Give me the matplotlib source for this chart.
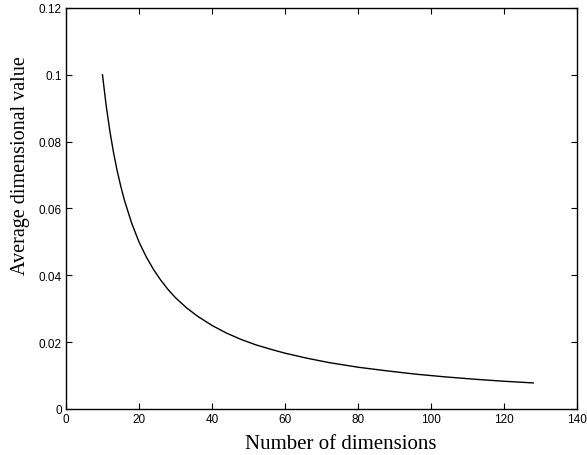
import matplotlib
matplotlib.use("Agg")
import matplotlib.pyplot as plt

# Average dimensional value versus number of dimensions
dimensions = [10, 11, 12, 13, 14, 15, 16, 18, 20, 22, 24, 26, 28, 30, 33, 36, 40,
              44, 48, 52, 56, 60, 66, 72, 80, 88, 96, 104, 112, 120, 128]
avg_value = [0.1, 0.0909, 0.0833, 0.0769, 0.0714, 0.0667, 0.0625, 0.0556, 0.05,
             0.0455, 0.0417, 0.0385, 0.0357, 0.0333, 0.0303, 0.0278, 0.025,
             0.0227, 0.0208, 0.0192, 0.0179, 0.0167, 0.0152, 0.0139, 0.0125,
             0.0114, 0.0104, 0.0096, 0.0089, 0.0083, 0.0078]

x_ticks = [0, 20, 40, 60, 80, 100, 120, 140]
y_ticks = [0, 0.02, 0.04, 0.06, 0.08, 0.1, 0.12]
y_tick_labels = ["0", "0.02", "0.04", "0.06", "0.08", "0.1", "0.12"]

fig = plt.figure(figsize=(5.87, 4.56), dpi=100)
ax = fig.add_axes([0.1124, 0.1009, 0.8706, 0.8794])

ax.plot(dimensions, avg_value, color="black", linewidth=1.0)

ax.set_xlim(0, 140)
ax.set_ylim(0, 0.12)
ax.set_xticks(x_ticks)
ax.set_xticklabels([str(t) for t in x_ticks])
ax.set_yticks(y_ticks)
ax.set_yticklabels(y_tick_labels)

ax.tick_params(direction="in", top=True, right=True, length=4, width=0.8,
               labelsize=8.5, pad=3)
for lbl in ax.get_xticklabels() + ax.get_yticklabels():
    lbl.set_family("Liberation Sans")
for spine in ax.spines.values():
    spine.set_linewidth(1.0)

ax.set_xlabel("Number of dimensions", family="Liberation Serif", fontsize=15)
ax.xaxis.set_label_coords(0.538, -0.062)
ax.set_ylabel("Average dimensional value", family="Liberation Serif", fontsize=14.5)
ax.yaxis.set_label_coords(-0.07, 0.61)

fig.savefig("out.png", dpi=100)
